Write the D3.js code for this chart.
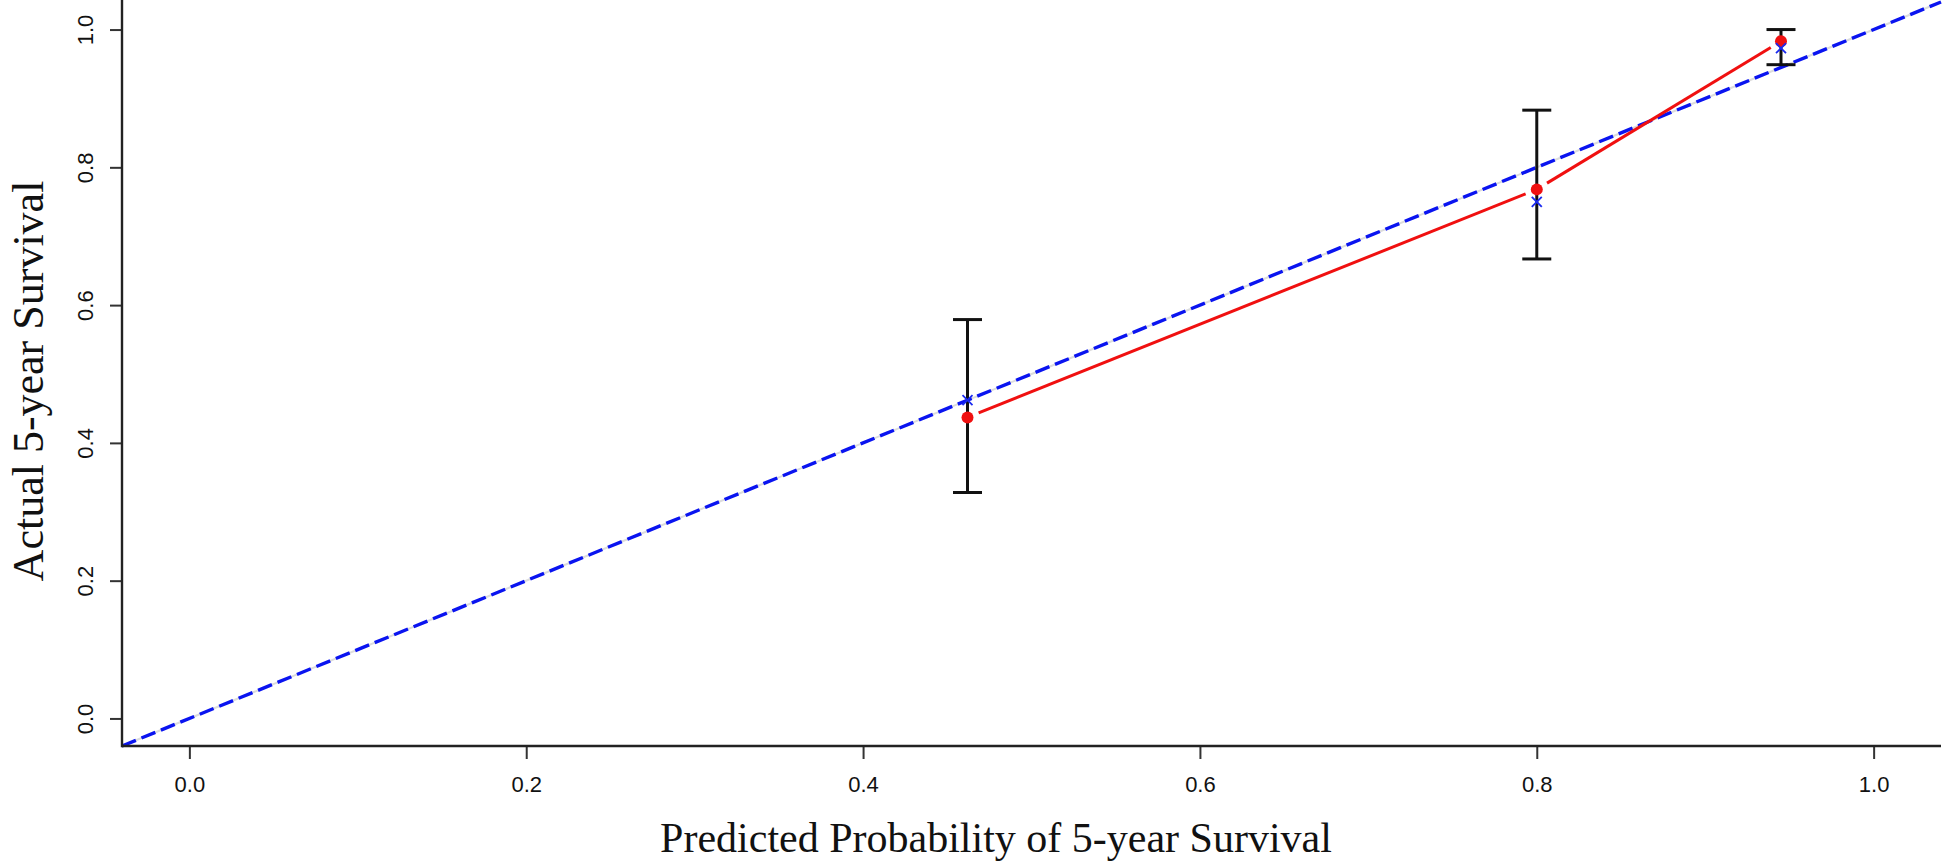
<!DOCTYPE html>
<html><head><meta charset="utf-8">
<script src="https://cdn.jsdelivr.net/npm/d3@7"></script>
<style>body{margin:0;background:#fff}svg{display:block}</style>
</head><body>
<svg id="chart" width="1946" height="868"></svg>
<script>
// ---- data ----
const predicted = [0.462, 0.800, 0.945];   // x position of each group
const observed  = [0.437, 0.768, 0.983];   // red points (observed)
const corrected = [0.462, 0.750, 0.973];   // blue crosses
const ciLower   = [0.328, 0.667, 0.949];
const ciUpper   = [0.579, 0.883, 1.000];
const xTicks = [0, 0.2, 0.4, 0.6, 0.8, 1.0];
const yTicks = [0, 0.2, 0.4, 0.6, 0.8, 1.0];
const idealLine = [-0.04, 1.04];
const xTitle = "Predicted Probability of 5-year Survival";
const yTitle = "Actual 5-year Survival";

const W = 1946, H = 868;
const m = {left: 122, right: 5, top: 2, bottom: 122};
const svg = d3.select("#chart");
const x = d3.scaleLinear().domain([-0.04, 1.04]).range([m.left, W - m.right]);
const y = d3.scaleLinear().domain([-0.04, 1.04]).range([H - m.bottom, m.top]);

// ideal line: faint grey underlay + blue dashes
svg.append("line")
  .attr("x1", x(idealLine[0])).attr("y1", y(idealLine[0]))
  .attr("x2", x(idealLine[1])).attr("y2", y(idealLine[1]))
  .attr("stroke", "#dcdcdc").attr("stroke-width", 2);
svg.append("line")
  .attr("x1", x(idealLine[0])).attr("y1", y(idealLine[0]))
  .attr("x2", x(idealLine[1])).attr("y2", y(idealLine[1]))
  .attr("stroke", "#0a14f0").attr("stroke-width", 3.4)
  .attr("stroke-dasharray", "15,6");

// red line with gaps around points (type = "b")
const gap = 12;
for (let i = 0; i < predicted.length - 1; i++) {
  const x1 = x(predicted[i]), y1 = y(observed[i]);
  const x2 = x(predicted[i+1]), y2 = y(observed[i+1]);
  const L = Math.hypot(x2 - x1, y2 - y1);
  const ux = (x2 - x1) / L, uy = (y2 - y1) / L;
  svg.append("line")
    .attr("x1", x1 + ux*gap).attr("y1", y1 + uy*gap)
    .attr("x2", x2 - ux*gap).attr("y2", y2 - uy*gap)
    .attr("stroke", "#f01010").attr("stroke-width", 3);
}

// error bars
const cap = 14.5;
const eb = svg.append("g").attr("stroke", "#111").attr("stroke-width", 3);
predicted.forEach((p, i) => {
  eb.append("line").attr("x1", x(p)).attr("x2", x(p))
    .attr("y1", y(ciLower[i])).attr("y2", y(ciUpper[i]));
  eb.append("line").attr("x1", x(p) - cap).attr("x2", x(p) + cap)
    .attr("y1", y(ciLower[i])).attr("y2", y(ciLower[i]));
  eb.append("line").attr("x1", x(p) - cap).attr("x2", x(p) + cap)
    .attr("y1", y(ciUpper[i])).attr("y2", y(ciUpper[i]));
});

// red points
svg.append("g").selectAll("circle").data(predicted).join("circle")
  .attr("cx", d => x(d)).attr("cy", (d, i) => y(observed[i]))
  .attr("r", 6).attr("fill", "#f01010");

// blue crosses
const cs = 5;
const cg = svg.append("g").attr("stroke", "#1a2af0").attr("stroke-width", 1.8);
predicted.forEach((p, i) => {
  const cx = x(p), cy = y(corrected[i]);
  cg.append("line").attr("x1", cx - cs).attr("y1", cy - cs).attr("x2", cx + cs).attr("y2", cy + cs);
  cg.append("line").attr("x1", cx - cs).attr("y1", cy + cs).attr("x2", cx + cs).attr("y2", cy - cs);
});

// axes
const xAxis = svg.append("g").attr("transform", `translate(0,${H - m.bottom})`)
  .call(d3.axisBottom(x).tickValues(xTicks).tickFormat(d3.format(".1f")).tickSize(13));
xAxis.select(".domain").remove();
xAxis.selectAll(".tick line").attr("stroke", "#333").attr("stroke-width", 2);
xAxis.selectAll(".tick text").attr("y", 30).attr("dy", "0.72em")
  .attr("font-family", "Liberation Sans, Arial, sans-serif")
  .attr("font-size", 22).attr("fill", "#111");

const yAxis = svg.append("g").attr("transform", `translate(${m.left},0)`)
  .call(d3.axisLeft(y).tickValues(yTicks).tickFormat(d3.format(".1f")).tickSize(12));
yAxis.select(".domain").remove();
yAxis.selectAll(".tick line").attr("stroke", "#333").attr("stroke-width", 2);
yAxis.selectAll(".tick text").attr("x", 0).attr("dy", "0.36em")
  .attr("text-anchor", "middle").attr("transform", "translate(-37,0) rotate(-90)")
  .attr("font-family", "Liberation Sans, Arial, sans-serif").attr("font-size", 22).attr("fill", "#111");

// axis lines (L-shaped box)
svg.append("line").attr("x1", x(-0.04)).attr("x2", x(1.04))
  .attr("y1", y(-0.04)).attr("y2", y(-0.04)).attr("stroke", "#222").attr("stroke-width", 2.4);
svg.append("line").attr("x1", x(-0.04)).attr("x2", x(-0.04))
  .attr("y1", y(-0.04) + 1.2).attr("y2", 0).attr("stroke", "#222").attr("stroke-width", 2.4);

// titles
svg.append("text").attr("x", 996).attr("y", 852).attr("text-anchor", "middle")
  .attr("font-family", "Liberation Serif, Times New Roman, serif").attr("font-size", 42)
  .attr("fill", "#111").text(xTitle);
svg.append("text").attr("transform", "translate(43,381) rotate(-90)").attr("text-anchor", "middle")
  .attr("font-family", "Liberation Serif, Times New Roman, serif").attr("font-size", 44)
  .attr("fill", "#111").text(yTitle);
</script>
</body></html>
